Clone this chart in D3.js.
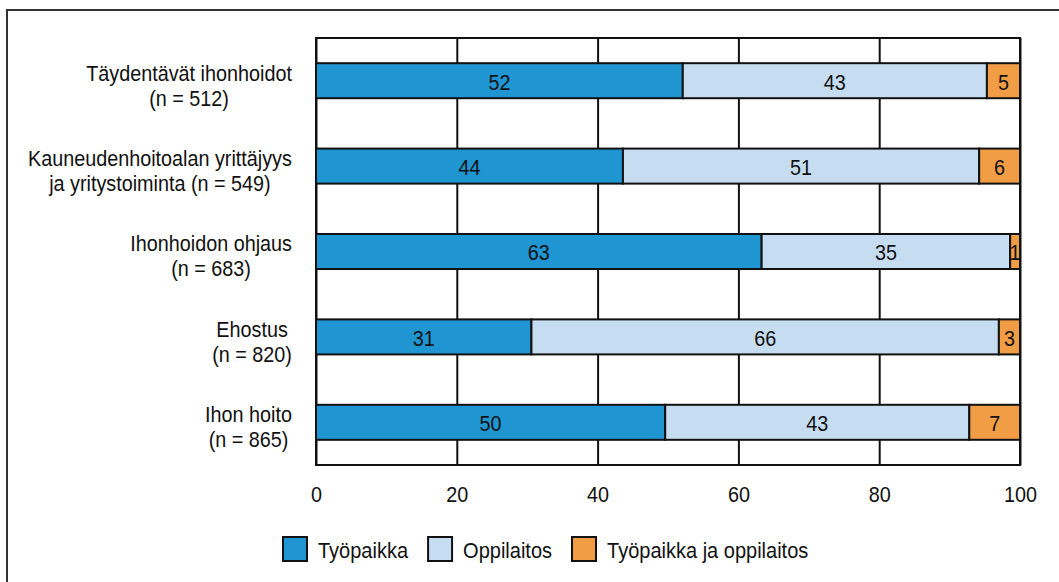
<!doctype html>
<html lang="fi">
  <head>
    <meta charset="UTF-8" />
    <title>Työpaikka / oppilaitos</title>
    <script src="https://unpkg.com/d3@7.9.0/dist/d3.min.js"></script>
    <style>
      body {
        margin: 0;
        overflow: hidden;
        background: #fff;
        font-family: 'Liberation Sans', Arial, sans-serif;
      }
      text {
        font-size: 22px;
        fill: #111;
      }
    </style>
  </head>
  <body>
    <svg width="1059" height="582"></svg>
    <script>
      // category labels (two lines each)
      const categories = [
        ['Täydentävät ihonhoidot', '(n = 512)'],
        ['Kauneudenhoitoalan yrittäjyys', 'ja  yritystoiminta (n = 549)'],
        ['Ihonhoidon ohjaus', '(n = 683)'],
        ['Ehostus', '(n = 820)'],
        ['Ihon hoito', '(n = 865)'],
      ];
      const seriesNames = ['Työpaikka', 'Oppilaitos', 'Työpaikka ja oppilaitos'];
      const tyopaikka = [52.1, 43.6, 63.3, 30.6, 49.6];
      const oppilaitos = [43.2, 50.6, 35.3, 66.4, 43.2];
      const molemmat = [4.7, 5.8, 1.4, 3.0, 7.2];
      const xTicks = [0, 20, 40, 60, 80, 100];
      const colors = ['#1f95d2', '#c6dcf0', '#f19d45'];

      // the original font is a narrow one, squeeze the text a bit
      const squeeze = 0.9;

      const svg = d3.select('svg');

      // outer frame
      svg
        .append('rect')
        .attr('x', 7)
        .attr('y', 10)
        .attr('width', 1070)
        .attr('height', 600)
        .attr('fill', 'none')
        .attr('stroke', '#333')
        .attr('stroke-width', 2);

      const plot = { left: 316, right: 1020, top: 38, bottom: 465 };

      const x = d3
        .scaleLinear()
        .domain([0, 100])
        .range([plot.left, plot.right]);

      const y = d3
        .scaleBand()
        .domain(d3.range(categories.length))
        .range([plot.top, plot.bottom])
        .paddingInner(0.59)
        .paddingOuter(0.295);

      // plot frame
      svg
        .append('rect')
        .attr('x', plot.left)
        .attr('y', plot.top)
        .attr('width', plot.right - plot.left)
        .attr('height', plot.bottom - plot.top)
        .attr('fill', 'none')
        .attr('stroke', '#111')
        .attr('stroke-width', 2);

      // grid + tick labels
      const xAxis = svg
        .append('g')
        .attr('transform', `translate(0,${plot.bottom})`)
        .call(
          d3
            .axisBottom(x)
            .tickValues(xTicks)
            .tickSize(-(plot.bottom - plot.top)),
        );
      xAxis.select('.domain').remove();
      xAxis
        .selectAll('.tick line')
        .attr('stroke', '#111')
        .attr('stroke-width', 2);
      xAxis
        .selectAll('.tick text')
        .attr('font-size', 22)
        .attr('font-family', 'Liberation Sans, Arial, sans-serif')
        .attr('fill', '#111')
        .attr('y', 0)
        .attr('dy', null)
        .attr('dominant-baseline', 'central')
        .attr('transform', `translate(0,29) scale(${squeeze},1)`);

      // stacked data
      const rows = categories.map((c, i) => ({
        i,
        v: [tyopaikka[i], oppilaitos[i], molemmat[i]],
      }));
      const stack = d3
        .stack()
        .keys([0, 1, 2])
        .value((d, k) => d.v[k]);
      const series = stack(rows);

      const groups = svg
        .selectAll('.series')
        .data(series)
        .enter()
        .append('g')
        .attr('class', 'series')
        .attr('fill', (d, k) => colors[k]);

      groups
        .selectAll('rect')
        .data((d) => d)
        .enter()
        .append('rect')
        .attr('x', (d) => x(d[0]))
        .attr('y', (d) => y(d.data.i))
        .attr('width', (d) => x(d[1]) - x(d[0]))
        .attr('height', y.bandwidth())
        .attr('stroke', '#111')
        .attr('stroke-width', 2);

      groups
        .selectAll('text')
        .data((d) => d)
        .enter()
        .append('text')
        .attr(
          'transform',
          (d) =>
            `translate(${(x(d[0]) + x(d[1])) / 2},${
              y(d.data.i) + y.bandwidth() / 2 + 1
            }) scale(${squeeze},1)`,
        )
        .attr('text-anchor', 'middle')
        .attr('dominant-baseline', 'central')
        .text((d) => Math.round(d[1] - d[0]));

      // category labels, each block centred and ending near the axis
      const labels = svg
        .selectAll('.cat')
        .data(categories)
        .enter()
        .append('g')
        .attr('class', 'cat');
      labels.each(function (lines, i) {
        const g = d3.select(this);
        const cy = y(i) + y.bandwidth() / 2;
        const t = g
          .selectAll('text')
          .data(lines)
          .enter()
          .append('text')
          .attr('dominant-baseline', 'central')
          .attr('text-anchor', 'middle')
          .text((d) => d);
        let maxW = 0;
        t.each(function () {
          maxW = Math.max(maxW, this.getComputedTextLength() * squeeze);
        });
        const cx = 292 - maxW / 2;
        t.attr(
          'transform',
          (d, j) =>
            `translate(${cx},${cy + (j === 0 ? -8 : 17)}) scale(${squeeze},1)`,
        );
      });

      // legend
      const legendSqueeze = 0.91;
      const legend = svg.append('g').attr('transform', 'translate(283,537)');
      let lx = 0;
      seriesNames.forEach((name, k) => {
        const item = legend.append('g').attr('transform', `translate(${lx},0)`);
        item
          .append('rect')
          .attr('width', 24)
          .attr('height', 24)
          .attr('fill', colors[k])
          .attr('stroke', '#111')
          .attr('stroke-width', 2);
        const t = item
          .append('text')
          .attr('transform', `translate(35,13) scale(${legendSqueeze},1)`)
          .attr('dominant-baseline', 'central')
          .text(name);
        lx += 35 + t.node().getComputedTextLength() * legendSqueeze + 20;
      });
    </script>
  </body>
</html>
